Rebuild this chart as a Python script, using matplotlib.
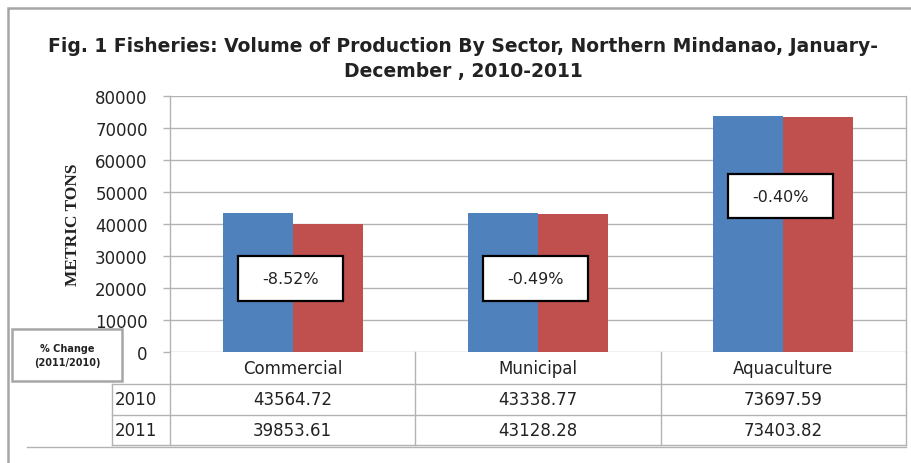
import numpy as np
import matplotlib.pyplot as plt
from matplotlib.patches import Rectangle
from matplotlib.lines import Line2D

# data
sectors = ['Commercial', 'Municipal', 'Aquaculture']
years = ['2010', '2011']
prod_2010 = [43564.72, 43338.77, 73697.59]
prod_2011 = [39853.61, 43128.28, 73403.82]
pct_change = ['-8.52%', '-0.49%', '-0.40%']
label_y = [23000, 23000, 48750]   # where the % change boxes sit

blue = '#4F81BD'
red = '#C0504D'
grid_c = '#B3B3B3'
txt_c = '#222222'

W, H = 912, 464
fig = plt.figure(figsize=(W / 100, H / 100), dpi=100)

# outer chart border
fig.add_artist(Rectangle((8 / W, -0.05), 1.2, 1 - 9 / H + 0.05, transform=fig.transFigure,
                         fill=False, ec='#A6A6A6', lw=1.8))

left, right, top, bottom = 170, 906, 97, 353
ax = fig.add_axes([left / W, 1 - bottom / H, (right - left) / W, (bottom - top) / H])

x = np.arange(len(sectors))
w = 1 / 3.5  # excel gap width 150%
ax.bar(x - w / 2, prod_2010, w, color=blue, zorder=3)
ax.bar(x + w / 2, prod_2011, w, color=red, zorder=3)

ax.set_xlim(-0.5, 2.5)
ax.set_ylim(0, 80000)
ax.set_yticks(np.arange(0, 80001, 10000))
ax.set_yticklabels([str(v) for v in range(0, 80001, 10000)], fontsize=12, color=txt_c)
ax.tick_params(axis='y', length=5, width=1, color=grid_c, pad=11)
ax.set_xticks([])
ax.yaxis.grid(True, color=grid_c, lw=1, zorder=0)
for s in ['top', 'bottom']:
    ax.spines[s].set_visible(False)
for s in ['left', 'right']:
    ax.spines[s].set_color(grid_c)
    ax.spines[s].set_linewidth(1)

ax.set_ylabel('METRIC TONS', fontfamily='Liberation Serif', fontweight='bold',
              fontsize=12.5, labelpad=10, color=txt_c)

# % change boxes
bw = 0.428
for i, (lab, yy) in enumerate(zip(pct_change, label_y)):
    ax.add_patch(Rectangle((i - 0.01 - bw / 2, yy - 7000), bw, 14000, fc='white',
                           ec='black', lw=1.6, zorder=5))
    ax.text(i - 0.01, yy, lab, ha='center', va='center', fontsize=11.5, color=txt_c, zorder=6)

# data table under the axis
tr = ax.get_xaxis_transform()
rows = [0, -32 / 256, -63 / 256, -93 / 256]
lab_x = -0.5 - 58 / 245.3

def hline(x0, x1, y):
    ax.add_line(Line2D([x0, x1], [y, y], transform=tr, clip_on=False, color=grid_c, lw=1))

def vline(xx, y0, y1):
    ax.add_line(Line2D([xx, xx], [y0, y1], transform=tr, clip_on=False, color=grid_c, lw=1))

hline(lab_x, 2.5, rows[1])
hline(lab_x, 2.5, rows[2])
hline(lab_x, 2.5, rows[3])
hline(-0.5 - 143 / 245.3, 2.5, rows[3] - 2 / 256)
vline(lab_x, rows[1], rows[3])
for xx in [-0.5, 0.5, 1.5, 2.5]:
    vline(xx, rows[0], rows[3])

for i, s in enumerate(sectors):
    ax.text(i, (rows[0] + rows[1]) / 2, s, transform=tr, ha='center', va='center',
            fontsize=12, color=txt_c)
for r, (yr, vals) in enumerate(zip(years, [prod_2010, prod_2011])):
    ymid = (rows[r + 1] + rows[r + 2]) / 2
    ax.text(lab_x + 0.012, ymid, yr, transform=tr, ha='left', va='center',
            fontsize=12, color=txt_c)
    for i, v in enumerate(vals):
        ax.text(i, ymid, f'{v:.2f}', transform=tr, ha='center', va='center',
                fontsize=12, color=txt_c)

# "% Change" box on the left
fig.add_artist(Rectangle((12 / W, 1 - 382 / H), 110 / W, 52 / H, transform=fig.transFigure,
                         fill=False, ec='#A6A6A6', lw=1.8))
fig.text(67 / W, 1 - 356 / H, '% Change\n(2011/2010)', ha='center', va='center',
         fontsize=7, fontweight='bold', color=txt_c, linespacing=1.5)

fig.text(463 / W, 1 - 59 / H,
         'Fig. 1 Fisheries: Volume of Production By Sector, Northern Mindanao, January-\n'
         'December , 2010-2011',
         ha='center', va='center', fontsize=13.5, fontweight='bold', color=txt_c,
         linespacing=1.4)

fig.savefig('out.png', dpi=100)
